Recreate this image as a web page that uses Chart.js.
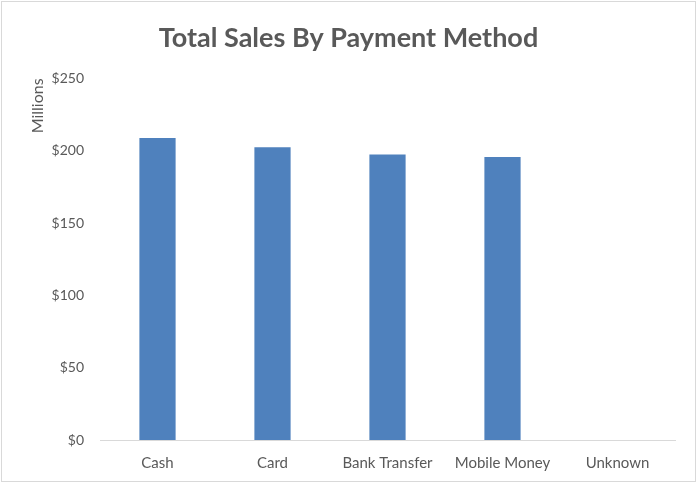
<!DOCTYPE html>
<html>
<head>
<meta charset="utf-8">
<script src="https://cdn.jsdelivr.net/npm/chart.js@4"></script>
<style>
    html, body { margin: 0; padding: 0; background: #ffffff; }
    #frame {
        position: absolute; left: 1px; top: 1px;
        width: 695px; height: 481px;
        box-sizing: border-box;
        border: 1px solid #d9d9d9;
        background: #ffffff;
    }
    #salesChart { display: block; }
</style>
</head>
<body>
<div id="frame"><canvas id="salesChart"></canvas></div>
<script>
// 결제수단별 매출 (단위: 백만)
const paymentMethods = ['Cash', 'Card', 'Bank Transfer', 'Mobile Money', 'Unknown'];
const salesMillions = [208.8, 202.4, 197.4, 195.6, 0];
const yTicks = [0, 50, 100, 150, 200, 250];

const textColor = '#595959';
const fontFamily = 'Lato, "Open Sans", sans-serif';

Chart.defaults.font.family = fontFamily;
Chart.defaults.color = textColor;

const ctx = document.getElementById('salesChart');
ctx.width = 693;
ctx.height = 479;

const chart = new Chart(ctx, {
    type: 'bar',
    data: {
        labels: paymentMethods,
        datasets: [{
            label: 'Total Sales',
            data: salesMillions,
            backgroundColor: '#4F81BD',
            borderWidth: 0,
            categoryPercentage: 1,
            barPercentage: 0.315
        }]
    },
    options: {
        responsive: false,
        animation: false,
        layout: { padding: { left: 20, right: 20, top: 0, bottom: 0 } },
        plugins: {
            legend: { display: false },
            tooltip: { enabled: false },
            title: {
                display: true,
                text: 'Total Sales By Payment Method',
                color: textColor,
                font: { size: 27, weight: 'bold', family: fontFamily },
                padding: { top: 20, bottom: 24 }
            }
        },
        scales: {
            x: {
                grid: { display: false },
                border: { display: true, color: '#d9d9d9', width: 1 },
                ticks: { color: textColor, font: { size: 15 }, padding: 6, maxRotation: 0 },
                afterFit: s => { s.height = 41; }
            },
            y: {
                min: 0,
                max: 250,
                grid: { display: false },
                border: { display: false },
                afterBuildTicks: s => { s.ticks = yTicks.map(v => ({ value: v })); },
                ticks: {
                    color: textColor,
                    font: { size: 14 },
                    padding: 8,
                    callback: v => '$' + v
                },
                title: {
                    display: true,
                    text: 'Millions',
                    align: 'end',
                    color: textColor,
                    font: { size: 16 },
                    padding: { top: 6, bottom: 0 }
                },
                afterFit: s => { s.width = 78; }
            }
        }
    }
});
</script>
</body>
</html>
